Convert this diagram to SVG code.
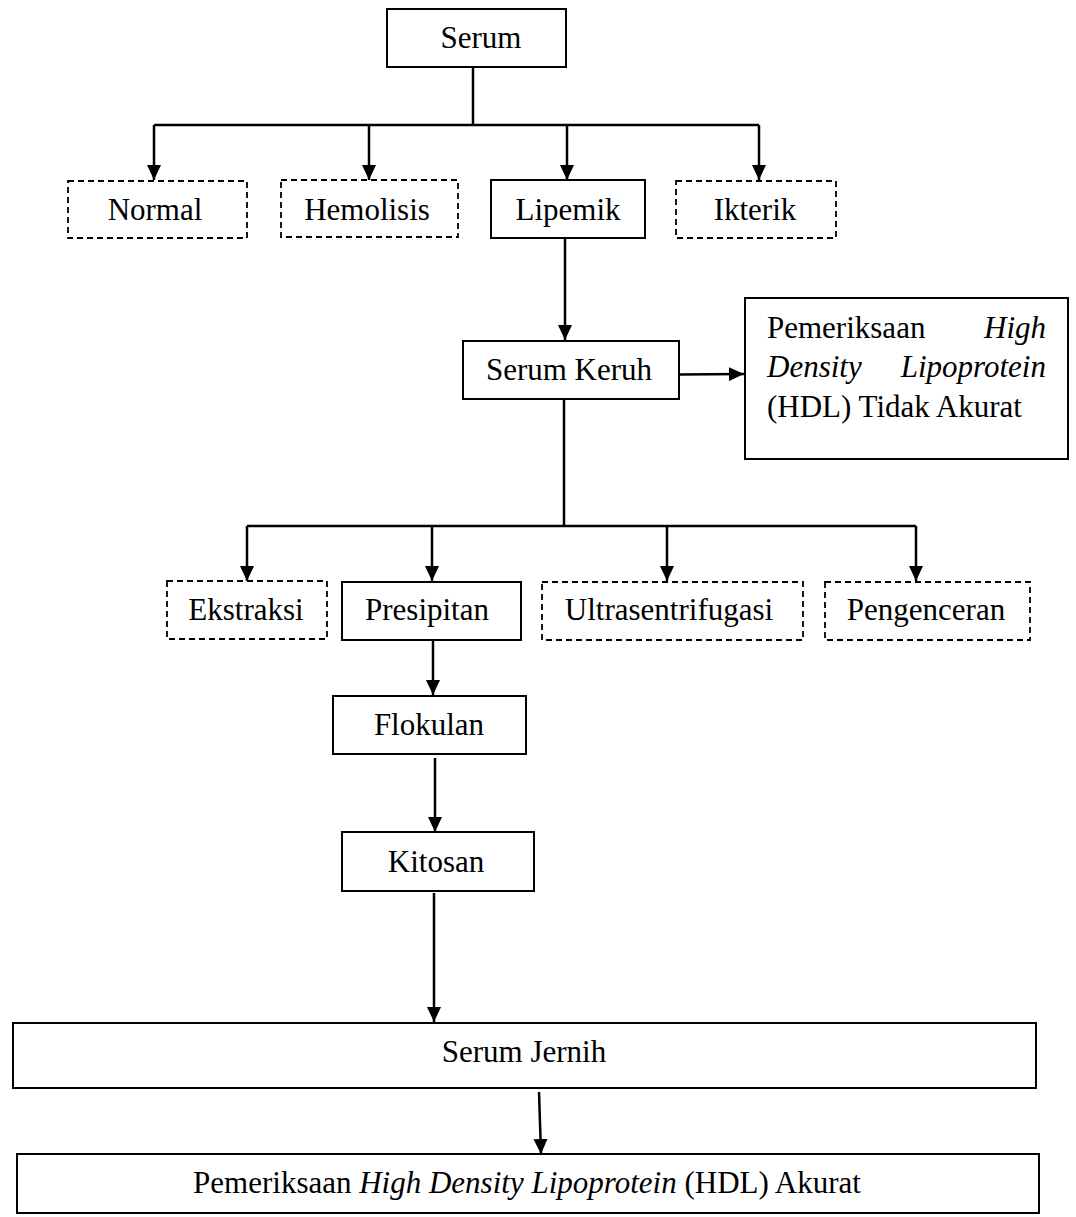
<svg xmlns="http://www.w3.org/2000/svg" width="1076" height="1217" viewBox="0 0 1076 1217">
<style>
.box{fill:#fff;stroke:#000;stroke-width:2}
.dash{fill:#fff;stroke:#000;stroke-width:1.8;stroke-dasharray:6 4}
.t{font-family:"Liberation Serif","Times New Roman",serif;font-size:31px;fill:#000}
.c{text-anchor:middle}
.i{font-style:italic}
.ln{fill:none;stroke:#000;stroke-width:2.5}
</style>
<defs>
<marker id="ah" markerUnits="userSpaceOnUse" markerWidth="16" markerHeight="15" refX="15" refY="7" orient="auto">
<path d="M0,0 L15,7 L0,14 z" fill="#000"/>
</marker>
</defs>
<rect width="1076" height="1217" fill="#fff"/>
<g id="connectors">
<path class="ln" d="M473,67 V125"/>
<path class="ln" d="M154,125 H759"/>
<path class="ln" d="M154,125 V180" marker-end="url(#ah)"/>
<path class="ln" d="M369,125 V180" marker-end="url(#ah)"/>
<path class="ln" d="M567,125 V180" marker-end="url(#ah)"/>
<path class="ln" d="M759,125 V180" marker-end="url(#ah)"/>
<path class="ln" d="M565,238 V340" marker-end="url(#ah)"/>
<path class="ln" d="M679,374.5 L744,374" marker-end="url(#ah)"/>
<path class="ln" d="M564,399 V526"/>
<path class="ln" d="M247,526 H916"/>
<path class="ln" d="M247,526 V581" marker-end="url(#ah)"/>
<path class="ln" d="M432,526 V581" marker-end="url(#ah)"/>
<path class="ln" d="M667,526 V581" marker-end="url(#ah)"/>
<path class="ln" d="M916,526 V581" marker-end="url(#ah)"/>
<path class="ln" d="M433,640 V695" marker-end="url(#ah)"/>
<path class="ln" d="M435,758 V832" marker-end="url(#ah)"/>
<path class="ln" d="M434,893 V1022" marker-end="url(#ah)"/>
<path class="ln" d="M539,1092 L541,1154" marker-end="url(#ah)"/>
</g>
<g id="serum"><rect class="box" x="387" y="9" width="179" height="58"/><text class="t c" x="481" y="48">Serum</text></g>
<g id="normal"><rect class="dash" x="68" y="181" width="179" height="57"/><text class="t c" x="155" y="220">Normal</text></g>
<g id="hemolisis"><rect class="dash" x="281" y="180" width="177" height="57"/><text class="t c" x="367" y="220">Hemolisis</text></g>
<g id="lipemik"><rect class="box" x="491" y="180" width="154" height="58"/><text class="t c" x="568" y="220">Lipemik</text></g>
<g id="ikterik"><rect class="dash" x="676" y="181" width="160" height="57"/><text class="t c" x="755" y="220">Ikterik</text></g>
<g id="serum-keruh"><rect class="box" x="463" y="341" width="216" height="58"/><text class="t c" x="569" y="380">Serum Keruh</text></g>
<g id="tidak-akurat"><rect class="box" x="745" y="298" width="323" height="161"/>
<text class="t" x="767" y="338">Pemeriksaan</text><text class="t i" x="1046" y="338" text-anchor="end">High</text>
<text class="t i" x="767" y="377">Density</text><text class="t i" x="1046" y="377" text-anchor="end">Lipoprotein</text>
<text class="t" x="767" y="417">(HDL) Tidak Akurat</text></g>
<g id="ekstraksi"><rect class="dash" x="167" y="581" width="160" height="58"/><text class="t c" x="246" y="620">Ekstraksi</text></g>
<g id="presipitan"><rect class="box" x="342" y="582" width="179" height="58"/><text class="t c" x="427" y="620">Presipitan</text></g>
<g id="ultrasentrifugasi"><rect class="dash" x="542" y="582" width="261" height="58"/><text class="t c" x="669" y="620">Ultrasentrifugasi</text></g>
<g id="pengenceran"><rect class="dash" x="825" y="582" width="205" height="58"/><text class="t c" x="926" y="620">Pengenceran</text></g>
<g id="flokulan"><rect class="box" x="333" y="696" width="193" height="58"/><text class="t c" x="429" y="735">Flokulan</text></g>
<g id="kitosan"><rect class="box" x="342" y="832" width="192" height="59"/><text class="t c" x="436" y="872">Kitosan</text></g>
<g id="serum-jernih"><rect class="box" x="13" y="1023" width="1023" height="65"/><text class="t c" x="524" y="1062">Serum Jernih</text></g>
<g id="akurat"><rect class="box" x="17" y="1154" width="1022" height="59"/><text class="t c" x="527" y="1193">Pemeriksaan <tspan class="i">High Density Lipoprotein</tspan> (HDL) Akurat</text></g>
</svg>
